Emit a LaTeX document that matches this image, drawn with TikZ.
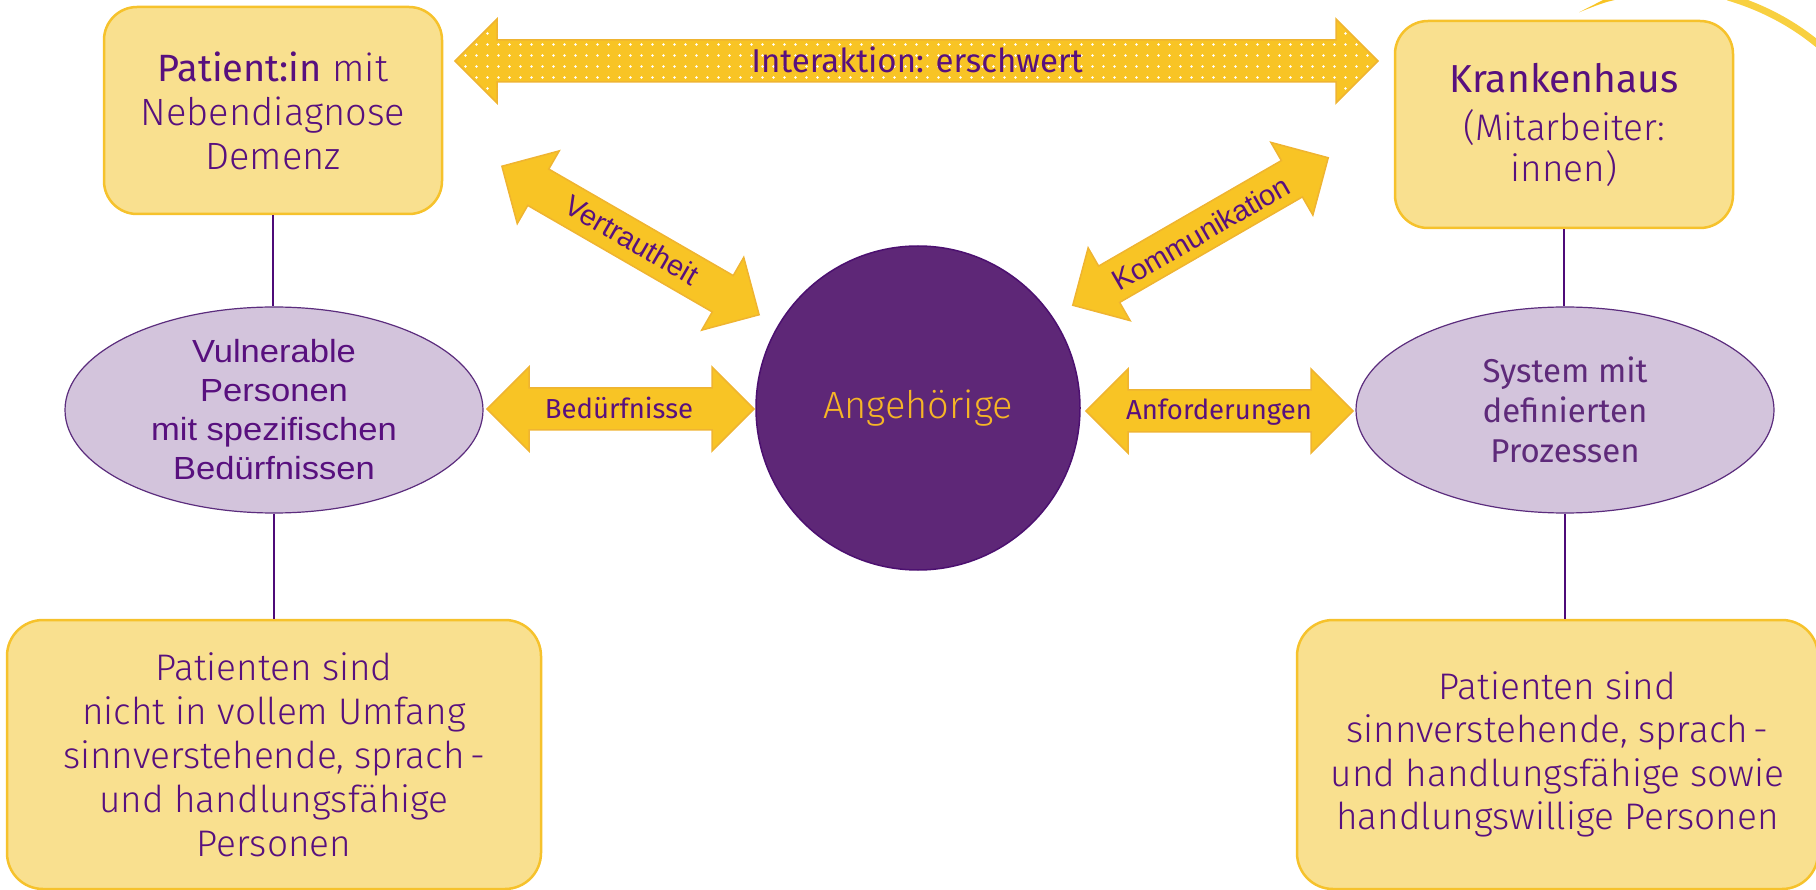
\documentclass[tikz,border=0pt]{standalone}
\usepackage{fontspec}
\setmainfont{Fira Sans Light}[BoldFont={Fira Sans}]
\newfontfamily\firareg{Fira Sans}
\newfontfamily\arialf{Liberation Sans}
\newfontfamily\arialw{Liberation Sans}[FakeStretch=1.08]
\usetikzlibrary{shapes.geometric}
\definecolor{boxfill}{HTML}{F9E08F}
\definecolor{boxline}{HTML}{F6C22C}
\definecolor{arrfill}{HTML}{F8C425}
\definecolor{arrline}{HTML}{EFB431}
\definecolor{txt}{HTML}{58107E}
\definecolor{circfill}{HTML}{5E2777}
\definecolor{circline}{HTML}{4C1070}
\definecolor{elfill}{HTML}{D3C4DC}
\definecolor{elline}{HTML}{5B2C7D}
\definecolor{linec}{HTML}{4E0B78}
\definecolor{angtxt}{HTML}{F6B526}
\definecolor{systxt}{HTML}{5E2A7A}
\definecolor{decoc}{HTML}{F8D040}
\newcommand\blockarrow[4]{%
\begin{scope}[shift={(#1,#2)},rotate=#3]
\path[barrow] (-#4/2,0) -- (-#4/2+42,-42) -- (-#4/2+42,-21) -- (#4/2-42,-21) -- (#4/2-42,-42) -- (#4/2,0) -- (#4/2-42,42) -- (#4/2-42,21) -- (-#4/2+42,21) -- (-#4/2+42,42) -- cycle;
\end{scope}}
\begin{document}
\begin{tikzpicture}[x=1pt,y=-1pt,
  every node/.style={text=txt},
  ybox/.style={draw=boxline, fill=boxfill, line width=2.5pt, rounded corners=33pt, align=center, inner sep=0pt},
  pell/.style={ellipse, draw=elline, fill=elfill, line width=1.2pt, minimum width=418pt, minimum height=206pt, align=center, inner sep=0pt},
  link/.style={draw=linec, line width=2.2pt},
  barrow/.style={fill=arrfill, draw=arrline, line width=1.5pt, line join=miter},
  alabel/.style={font=\firareg\fontsize{27.5}{30}\selectfont, anchor=base},
  rlabel/.style={font=\arialf\fontsize{29}{32}\selectfont}]
\useasboundingbox (0,0) rectangle (1816,890);

% decoration top right
\draw[decoc, line width=7pt] (1728,-3) .. controls (1765,8) and (1795,25) .. (1820,46);
\fill[arrfill] (1579,12.3) -- (1607,-2) -- (1624,-2) .. controls (1605,2) .. (1579,12.3) -- cycle;

% boxes
\node[ybox, minimum width=338pt, minimum height=207pt, font=\fontsize{38}{44}\selectfont] (pat) at (273,110.5)
  {\textbf{Patient:in} mit\\Nebendiagnose\\Demenz};
\node[ybox, minimum width=338pt, minimum height=207pt, font=\fontsize{37}{41}\selectfont] (kh) at (1564,124.5)
  {{\firareg\fontsize{39}{46}\selectfont Krankenhaus}\\[7pt]
   (Mitarbeiter:\\innen)};
\node[ybox, rounded corners=36pt, minimum width=534pt, minimum height=269pt, font=\fontsize{37}{44}\selectfont] (bl) at (274,754.5)
  {Patienten sind\\nicht in vollem Umfang\\sinnverstehende, sprach\hspace{0.15em}-\\und handlungsfähige\\Personen};
\node[ybox, rounded corners=36pt, minimum width=521pt, minimum height=269pt, font=\fontsize{37}{43.5}\selectfont] (br) at (1557.5,754.5)
  {Patienten sind\\sinnverstehende, sprach\hspace{0.15em}-\\und handlungsfähige sowie\\handlungswillige Personen};

% ellipses
\node[pell, font=\arialw\fontsize{32}{39}\selectfont] (vul) at (274,410)
  {Vulnerable\\Personen\\mit spezifischen\\Bedürfnissen};
\node[pell, font=\firareg\fontsize{33}{40}\selectfont, text=systxt] (sys) at (1565,410)
  {System mit\\definierten\\Prozessen};

% circle
\node[circle, draw=circline, fill=circfill, line width=1.5pt, minimum size=324pt, inner sep=0pt, text=angtxt, font=\fontsize{38}{42}\selectfont] (ang) at (918,408) {Angehörige};

% connectors
\draw[link] (pat.south) -- (pat.south |- vul.north);
\draw[link] (vul.south) -- (vul.south |- bl.north);
\draw[link] (kh.south) -- (kh.south |- sys.north);
\draw[link] (sys.south) -- (sys.south |- br.north);

% block arrows
\blockarrow{916.5}{61}{0}{923}
\begin{scope}[shift={(916.5,61)}]
\clip (-923/2,0) -- (-923/2+42,-42) -- (-923/2+42,-21) -- (923/2-42,-21) -- (923/2-42,-42) -- (923/2,0) -- (923/2-42,42) -- (923/2-42,21) -- (-923/2+42,21) -- (-923/2+42,42) -- cycle;
\foreach \i in {-42,...,42}{\foreach \j in {-4,...,3}{\fill[white] (11*\i,11*\j+5.5) circle (1.3);}}
\end{scope}
\blockarrow{620.5}{409}{0}{267}
\blockarrow{1219.5}{411}{0}{267}
\blockarrow{630.5}{240.5}{-30}{297}
\blockarrow{1200.5}{231.5}{30}{295}

% arrow labels
\node[alabel, font=\firareg\fontsize{33}{36}\selectfont] (lint) at (917,73) {Interaktion: erschwert};
\node[alabel] (lbed) at (619,419) {Bedürfnisse};
\node[alabel] (lanf) at (1219,420) {Anforderungen};
\node[rlabel, rotate=-30] (lver) at (632,240) {Vertrautheit};
\node[rlabel, rotate=30] (lkom) at (1201,233) {Kommunikation};
\end{tikzpicture}
\end{document}
